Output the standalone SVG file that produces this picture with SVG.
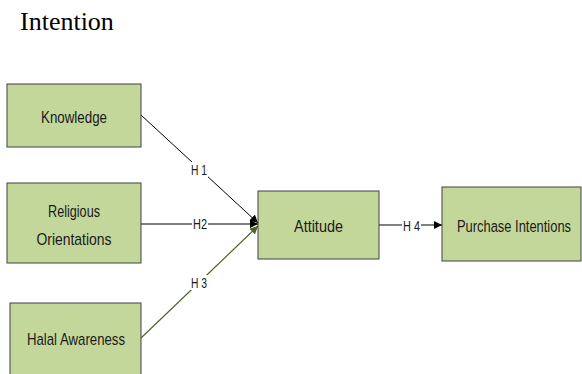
<svg xmlns="http://www.w3.org/2000/svg" width="582" height="374" viewBox="0 0 582 374">
<style>
.box{fill:#c4d79b;stroke:#404040;stroke-width:1}
.t{font-family:"Liberation Sans",Arial,sans-serif;font-size:17px;fill:#1a1a1a;text-anchor:middle}
.lbl{font-family:"Liberation Sans",Arial,sans-serif;font-size:14px;fill:#1a1a1a;text-anchor:middle}
.ln{stroke:#000;stroke-width:1;fill:none}
.ol{stroke:#4f6228;stroke-width:1.2;fill:none}
.bg{fill:#fff}
</style>
<defs>
<marker id="ab" viewBox="0 0 10 10" refX="10" refY="5" markerWidth="8" markerHeight="8" markerUnits="userSpaceOnUse" orient="auto"><path d="M0,0 L10,5 L0,10 Z" fill="#000"/></marker>
<marker id="ao" viewBox="0 0 10 10" refX="10" refY="5" markerWidth="8" markerHeight="8" markerUnits="userSpaceOnUse" orient="auto"><path d="M0,0 L10,5 L0,10 Z" fill="#4f6228"/></marker>
</defs>
<text x="20" y="30" font-family="Liberation Serif,'Times New Roman',serif" font-size="26" fill="#000">Intention</text>
<g id="connectors">
<line class="ln" x1="141" y1="115" x2="258" y2="223" marker-end="url(#ab)"/>
<line class="ln" x1="141" y1="224" x2="258" y2="224" marker-end="url(#ab)"/>
<line class="ol" x1="141" y1="338" x2="258" y2="226" marker-end="url(#ao)"/>
<line class="ln" x1="379" y1="225" x2="442" y2="225" marker-end="url(#ab)"/>
<rect class="bg" x="190" y="162" width="18" height="15"/>
<text class="lbl" x="199" y="175" textLength="16" lengthAdjust="spacingAndGlyphs">H 1</text>
<rect class="bg" x="192" y="217" width="16" height="13"/>
<text class="lbl" x="200" y="229" textLength="14" lengthAdjust="spacingAndGlyphs">H2</text>
<rect class="bg" x="190" y="275" width="18" height="15"/>
<text class="lbl" x="199" y="288" textLength="16" lengthAdjust="spacingAndGlyphs">H 3</text>
<rect class="bg" x="402" y="218" width="19" height="14"/>
<text class="lbl" x="411.5" y="231" textLength="17" lengthAdjust="spacingAndGlyphs">H 4</text>
</g>
<g id="knowledge">
<rect class="box" x="7" y="84" width="134" height="63"/>
<text class="t" x="74" y="123" textLength="66" lengthAdjust="spacingAndGlyphs">Knowledge</text>
</g>
<g id="religious">
<rect class="box" x="7" y="183" width="134" height="80"/>
<text class="t" x="74" y="217" textLength="52" lengthAdjust="spacingAndGlyphs">Religious</text>
<text class="t" x="74" y="245" textLength="75" lengthAdjust="spacingAndGlyphs">Orientations</text>
</g>
<g id="halal">
<rect class="box" x="10" y="303" width="131" height="80"/>
<text class="t" x="76" y="345" textLength="98" lengthAdjust="spacingAndGlyphs">Halal Awareness</text>
</g>
<g id="attitude">
<rect class="box" x="258" y="191" width="121" height="68"/>
<text class="t" x="318.5" y="232" textLength="49" lengthAdjust="spacingAndGlyphs">Attitude</text>
</g>
<g id="purchase">
<rect class="box" x="442" y="187" width="139" height="74"/>
<text class="t" transform="translate(514,232) scale(0.76,1)" x="0" y="0">Purchase Intentions</text>
</g>
</svg>
